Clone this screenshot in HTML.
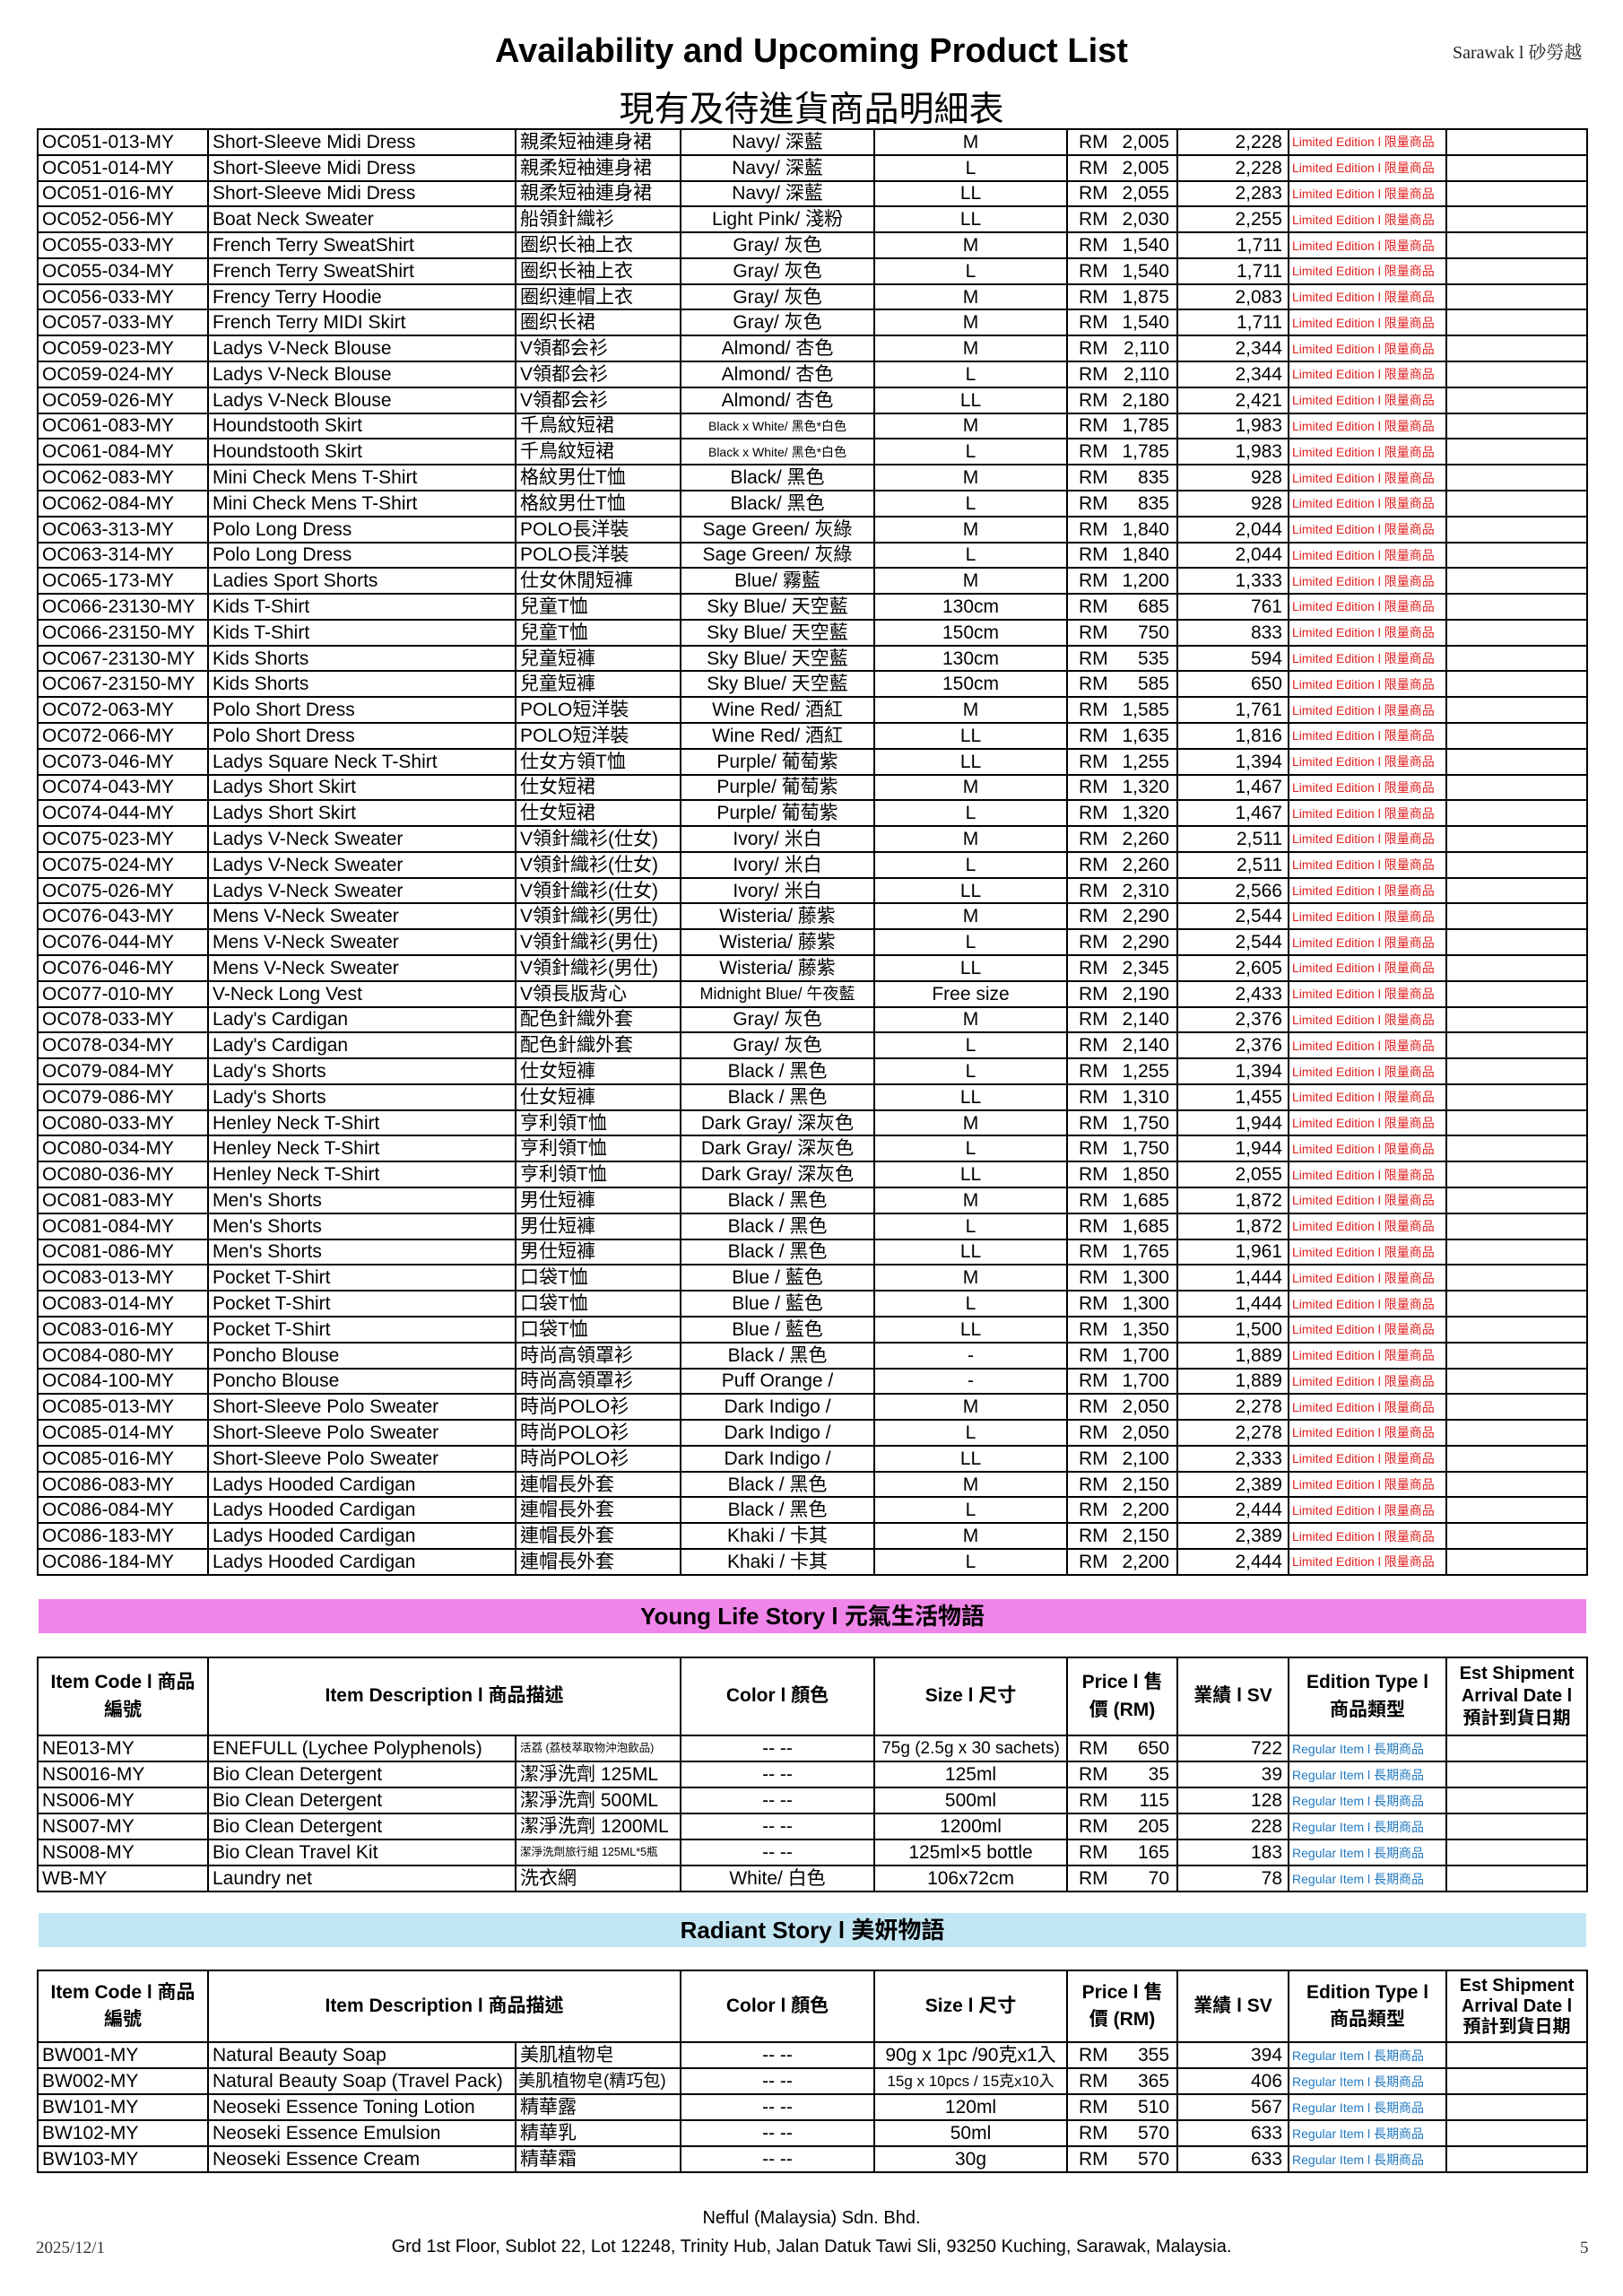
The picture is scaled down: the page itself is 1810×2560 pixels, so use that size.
<!DOCTYPE html>
<html><head><meta charset="utf-8">
<style>
*{margin:0;padding:0;box-sizing:border-box}
body{width:1810px;height:2560px;background:#fff;position:relative;font-family:"Liberation Sans","Noto Sans CJK TC",sans-serif;color:#000;overflow:hidden}
.abs{position:absolute}
table{position:absolute;left:41px;width:1728px;border-collapse:collapse;table-layout:fixed}
td,th{border:2px solid #000;white-space:nowrap;overflow:hidden;font-size:21px;line-height:1;padding:0 4px;vertical-align:middle;font-weight:normal}
tr{height:10px}
.t2 tr{height:29px}
.k,.s{text-align:center}
.p{text-align:right;padding-right:8px;padding-left:12px}
.p b{float:left;font-weight:normal}
.v{text-align:right;padding-right:6px}
.e{font-size:14px;color:#e0201f;padding-left:3px}
.r{font-size:14px;color:#1f78c0;padding-left:3px}
.sm{font-size:14px}
.xs{font-size:12.5px}
th{font-weight:bold;font-size:21px;line-height:1.45;text-align:center;white-space:normal}
.bar{position:absolute;left:43px;width:1726px;height:38px;text-align:center;font-weight:bold;font-size:26px;line-height:38px}
</style></head><body>
<div class="abs" style="left:0;width:1810px;top:36px;text-align:center;font-size:38px;font-weight:bold">Availability and Upcoming Product List</div>
<div class="abs" style="left:0;width:1810px;top:96px;text-align:center;font-size:39px;font-family:'Noto Sans CJK TC',sans-serif;line-height:46px">現有及待進貨商品明細表</div>
<div class="abs" style="left:1620px;top:42px;font-size:20px;font-family:'Liberation Serif','Noto Serif CJK SC',serif;color:#222">Sarawak l 砂勞越</div>

<table style="top:143px;height:1614px">
<colgroup><col style="width:190px"><col style="width:343px"><col style="width:184px"><col style="width:216px"><col style="width:215px"><col style="width:123px"><col style="width:124px"><col style="width:176px"><col style="width:157px"></colgroup>
<tr><td>OC051-013-MY</td><td>Short-Sleeve Midi Dress</td><td>親柔短袖連身裙</td><td class=k>Navy/ 深藍</td><td class=s>M</td><td class=p><b>RM</b>2,005</td><td class=v>2,228</td><td class=e>Limited Edition l 限量商品</td><td></td></tr>
<tr><td>OC051-014-MY</td><td>Short-Sleeve Midi Dress</td><td>親柔短袖連身裙</td><td class=k>Navy/ 深藍</td><td class=s>L</td><td class=p><b>RM</b>2,005</td><td class=v>2,228</td><td class=e>Limited Edition l 限量商品</td><td></td></tr>
<tr><td>OC051-016-MY</td><td>Short-Sleeve Midi Dress</td><td>親柔短袖連身裙</td><td class=k>Navy/ 深藍</td><td class=s>LL</td><td class=p><b>RM</b>2,055</td><td class=v>2,283</td><td class=e>Limited Edition l 限量商品</td><td></td></tr>
<tr><td>OC052-056-MY</td><td>Boat Neck Sweater</td><td>船領針織衫</td><td class=k>Light Pink/ 淺粉</td><td class=s>LL</td><td class=p><b>RM</b>2,030</td><td class=v>2,255</td><td class=e>Limited Edition l 限量商品</td><td></td></tr>
<tr><td>OC055-033-MY</td><td>French Terry SweatShirt</td><td>圈织长袖上衣</td><td class=k>Gray/ 灰色</td><td class=s>M</td><td class=p><b>RM</b>1,540</td><td class=v>1,711</td><td class=e>Limited Edition l 限量商品</td><td></td></tr>
<tr><td>OC055-034-MY</td><td>French Terry SweatShirt</td><td>圈织长袖上衣</td><td class=k>Gray/ 灰色</td><td class=s>L</td><td class=p><b>RM</b>1,540</td><td class=v>1,711</td><td class=e>Limited Edition l 限量商品</td><td></td></tr>
<tr><td>OC056-033-MY</td><td>Frency Terry Hoodie</td><td>圈织連帽上衣</td><td class=k>Gray/ 灰色</td><td class=s>M</td><td class=p><b>RM</b>1,875</td><td class=v>2,083</td><td class=e>Limited Edition l 限量商品</td><td></td></tr>
<tr><td>OC057-033-MY</td><td>French Terry MIDI Skirt</td><td>圈织长裙</td><td class=k>Gray/ 灰色</td><td class=s>M</td><td class=p><b>RM</b>1,540</td><td class=v>1,711</td><td class=e>Limited Edition l 限量商品</td><td></td></tr>
<tr><td>OC059-023-MY</td><td>Ladys V-Neck Blouse</td><td>V領都会衫</td><td class=k>Almond/ 杏色</td><td class=s>M</td><td class=p><b>RM</b>2,110</td><td class=v>2,344</td><td class=e>Limited Edition l 限量商品</td><td></td></tr>
<tr><td>OC059-024-MY</td><td>Ladys V-Neck Blouse</td><td>V領都会衫</td><td class=k>Almond/ 杏色</td><td class=s>L</td><td class=p><b>RM</b>2,110</td><td class=v>2,344</td><td class=e>Limited Edition l 限量商品</td><td></td></tr>
<tr><td>OC059-026-MY</td><td>Ladys V-Neck Blouse</td><td>V領都会衫</td><td class=k>Almond/ 杏色</td><td class=s>LL</td><td class=p><b>RM</b>2,180</td><td class=v>2,421</td><td class=e>Limited Edition l 限量商品</td><td></td></tr>
<tr><td>OC061-083-MY</td><td>Houndstooth Skirt</td><td>千鳥紋短裙</td><td class="k sm">Black x White/ 黑色*白色</td><td class=s>M</td><td class=p><b>RM</b>1,785</td><td class=v>1,983</td><td class=e>Limited Edition l 限量商品</td><td></td></tr>
<tr><td>OC061-084-MY</td><td>Houndstooth Skirt</td><td>千鳥紋短裙</td><td class="k sm">Black x White/ 黑色*白色</td><td class=s>L</td><td class=p><b>RM</b>1,785</td><td class=v>1,983</td><td class=e>Limited Edition l 限量商品</td><td></td></tr>
<tr><td>OC062-083-MY</td><td>Mini Check Mens T-Shirt</td><td>格紋男仕T恤</td><td class=k>Black/ 黑色</td><td class=s>M</td><td class=p><b>RM</b>835</td><td class=v>928</td><td class=e>Limited Edition l 限量商品</td><td></td></tr>
<tr><td>OC062-084-MY</td><td>Mini Check Mens T-Shirt</td><td>格紋男仕T恤</td><td class=k>Black/ 黑色</td><td class=s>L</td><td class=p><b>RM</b>835</td><td class=v>928</td><td class=e>Limited Edition l 限量商品</td><td></td></tr>
<tr><td>OC063-313-MY</td><td>Polo Long Dress</td><td>POLO長洋裝</td><td class=k>Sage Green/ 灰綠</td><td class=s>M</td><td class=p><b>RM</b>1,840</td><td class=v>2,044</td><td class=e>Limited Edition l 限量商品</td><td></td></tr>
<tr><td>OC063-314-MY</td><td>Polo Long Dress</td><td>POLO長洋裝</td><td class=k>Sage Green/ 灰綠</td><td class=s>L</td><td class=p><b>RM</b>1,840</td><td class=v>2,044</td><td class=e>Limited Edition l 限量商品</td><td></td></tr>
<tr><td>OC065-173-MY</td><td>Ladies Sport Shorts</td><td>仕女休閒短褲</td><td class=k>Blue/ 霧藍</td><td class=s>M</td><td class=p><b>RM</b>1,200</td><td class=v>1,333</td><td class=e>Limited Edition l 限量商品</td><td></td></tr>
<tr><td>OC066-23130-MY</td><td>Kids T-Shirt</td><td>兒童T恤</td><td class=k>Sky Blue/ 天空藍</td><td class=s>130cm</td><td class=p><b>RM</b>685</td><td class=v>761</td><td class=e>Limited Edition l 限量商品</td><td></td></tr>
<tr><td>OC066-23150-MY</td><td>Kids T-Shirt</td><td>兒童T恤</td><td class=k>Sky Blue/ 天空藍</td><td class=s>150cm</td><td class=p><b>RM</b>750</td><td class=v>833</td><td class=e>Limited Edition l 限量商品</td><td></td></tr>
<tr><td>OC067-23130-MY</td><td>Kids Shorts</td><td>兒童短褲</td><td class=k>Sky Blue/ 天空藍</td><td class=s>130cm</td><td class=p><b>RM</b>535</td><td class=v>594</td><td class=e>Limited Edition l 限量商品</td><td></td></tr>
<tr><td>OC067-23150-MY</td><td>Kids Shorts</td><td>兒童短褲</td><td class=k>Sky Blue/ 天空藍</td><td class=s>150cm</td><td class=p><b>RM</b>585</td><td class=v>650</td><td class=e>Limited Edition l 限量商品</td><td></td></tr>
<tr><td>OC072-063-MY</td><td>Polo Short Dress</td><td>POLO短洋裝</td><td class=k>Wine Red/ 酒紅</td><td class=s>M</td><td class=p><b>RM</b>1,585</td><td class=v>1,761</td><td class=e>Limited Edition l 限量商品</td><td></td></tr>
<tr><td>OC072-066-MY</td><td>Polo Short Dress</td><td>POLO短洋裝</td><td class=k>Wine Red/ 酒紅</td><td class=s>LL</td><td class=p><b>RM</b>1,635</td><td class=v>1,816</td><td class=e>Limited Edition l 限量商品</td><td></td></tr>
<tr><td>OC073-046-MY</td><td>Ladys Square Neck T-Shirt</td><td>仕女方領T恤</td><td class=k>Purple/ 葡萄紫</td><td class=s>LL</td><td class=p><b>RM</b>1,255</td><td class=v>1,394</td><td class=e>Limited Edition l 限量商品</td><td></td></tr>
<tr><td>OC074-043-MY</td><td>Ladys Short Skirt</td><td>仕女短裙</td><td class=k>Purple/ 葡萄紫</td><td class=s>M</td><td class=p><b>RM</b>1,320</td><td class=v>1,467</td><td class=e>Limited Edition l 限量商品</td><td></td></tr>
<tr><td>OC074-044-MY</td><td>Ladys Short Skirt</td><td>仕女短裙</td><td class=k>Purple/ 葡萄紫</td><td class=s>L</td><td class=p><b>RM</b>1,320</td><td class=v>1,467</td><td class=e>Limited Edition l 限量商品</td><td></td></tr>
<tr><td>OC075-023-MY</td><td>Ladys V-Neck Sweater</td><td>V領針織衫(仕女)</td><td class=k>Ivory/ 米白</td><td class=s>M</td><td class=p><b>RM</b>2,260</td><td class=v>2,511</td><td class=e>Limited Edition l 限量商品</td><td></td></tr>
<tr><td>OC075-024-MY</td><td>Ladys V-Neck Sweater</td><td>V領針織衫(仕女)</td><td class=k>Ivory/ 米白</td><td class=s>L</td><td class=p><b>RM</b>2,260</td><td class=v>2,511</td><td class=e>Limited Edition l 限量商品</td><td></td></tr>
<tr><td>OC075-026-MY</td><td>Ladys V-Neck Sweater</td><td>V領針織衫(仕女)</td><td class=k>Ivory/ 米白</td><td class=s>LL</td><td class=p><b>RM</b>2,310</td><td class=v>2,566</td><td class=e>Limited Edition l 限量商品</td><td></td></tr>
<tr><td>OC076-043-MY</td><td>Mens V-Neck Sweater</td><td>V領針織衫(男仕)</td><td class=k>Wisteria/ 藤紫</td><td class=s>M</td><td class=p><b>RM</b>2,290</td><td class=v>2,544</td><td class=e>Limited Edition l 限量商品</td><td></td></tr>
<tr><td>OC076-044-MY</td><td>Mens V-Neck Sweater</td><td>V領針織衫(男仕)</td><td class=k>Wisteria/ 藤紫</td><td class=s>L</td><td class=p><b>RM</b>2,290</td><td class=v>2,544</td><td class=e>Limited Edition l 限量商品</td><td></td></tr>
<tr><td>OC076-046-MY</td><td>Mens V-Neck Sweater</td><td>V領針織衫(男仕)</td><td class=k>Wisteria/ 藤紫</td><td class=s>LL</td><td class=p><b>RM</b>2,345</td><td class=v>2,605</td><td class=e>Limited Edition l 限量商品</td><td></td></tr>
<tr><td>OC077-010-MY</td><td>V-Neck Long Vest</td><td>V領長版背心</td><td class=k style="font-size:18px">Midnight Blue/ 午夜藍</td><td class=s>Free size</td><td class=p><b>RM</b>2,190</td><td class=v>2,433</td><td class=e>Limited Edition l 限量商品</td><td></td></tr>
<tr><td>OC078-033-MY</td><td>Lady's Cardigan</td><td>配色針織外套</td><td class=k>Gray/ 灰色</td><td class=s>M</td><td class=p><b>RM</b>2,140</td><td class=v>2,376</td><td class=e>Limited Edition l 限量商品</td><td></td></tr>
<tr><td>OC078-034-MY</td><td>Lady's Cardigan</td><td>配色針織外套</td><td class=k>Gray/ 灰色</td><td class=s>L</td><td class=p><b>RM</b>2,140</td><td class=v>2,376</td><td class=e>Limited Edition l 限量商品</td><td></td></tr>
<tr><td>OC079-084-MY</td><td>Lady's Shorts</td><td>仕女短褲</td><td class=k>Black / 黑色</td><td class=s>L</td><td class=p><b>RM</b>1,255</td><td class=v>1,394</td><td class=e>Limited Edition l 限量商品</td><td></td></tr>
<tr><td>OC079-086-MY</td><td>Lady's Shorts</td><td>仕女短褲</td><td class=k>Black / 黑色</td><td class=s>LL</td><td class=p><b>RM</b>1,310</td><td class=v>1,455</td><td class=e>Limited Edition l 限量商品</td><td></td></tr>
<tr><td>OC080-033-MY</td><td>Henley Neck T-Shirt</td><td>亨利領T恤</td><td class=k>Dark Gray/ 深灰色</td><td class=s>M</td><td class=p><b>RM</b>1,750</td><td class=v>1,944</td><td class=e>Limited Edition l 限量商品</td><td></td></tr>
<tr><td>OC080-034-MY</td><td>Henley Neck T-Shirt</td><td>亨利領T恤</td><td class=k>Dark Gray/ 深灰色</td><td class=s>L</td><td class=p><b>RM</b>1,750</td><td class=v>1,944</td><td class=e>Limited Edition l 限量商品</td><td></td></tr>
<tr><td>OC080-036-MY</td><td>Henley Neck T-Shirt</td><td>亨利領T恤</td><td class=k>Dark Gray/ 深灰色</td><td class=s>LL</td><td class=p><b>RM</b>1,850</td><td class=v>2,055</td><td class=e>Limited Edition l 限量商品</td><td></td></tr>
<tr><td>OC081-083-MY</td><td>Men's Shorts</td><td>男仕短褲</td><td class=k>Black / 黑色</td><td class=s>M</td><td class=p><b>RM</b>1,685</td><td class=v>1,872</td><td class=e>Limited Edition l 限量商品</td><td></td></tr>
<tr><td>OC081-084-MY</td><td>Men's Shorts</td><td>男仕短褲</td><td class=k>Black / 黑色</td><td class=s>L</td><td class=p><b>RM</b>1,685</td><td class=v>1,872</td><td class=e>Limited Edition l 限量商品</td><td></td></tr>
<tr><td>OC081-086-MY</td><td>Men's Shorts</td><td>男仕短褲</td><td class=k>Black / 黑色</td><td class=s>LL</td><td class=p><b>RM</b>1,765</td><td class=v>1,961</td><td class=e>Limited Edition l 限量商品</td><td></td></tr>
<tr><td>OC083-013-MY</td><td>Pocket T-Shirt</td><td>口袋T恤</td><td class=k>Blue / 藍色</td><td class=s>M</td><td class=p><b>RM</b>1,300</td><td class=v>1,444</td><td class=e>Limited Edition l 限量商品</td><td></td></tr>
<tr><td>OC083-014-MY</td><td>Pocket T-Shirt</td><td>口袋T恤</td><td class=k>Blue / 藍色</td><td class=s>L</td><td class=p><b>RM</b>1,300</td><td class=v>1,444</td><td class=e>Limited Edition l 限量商品</td><td></td></tr>
<tr><td>OC083-016-MY</td><td>Pocket T-Shirt</td><td>口袋T恤</td><td class=k>Blue / 藍色</td><td class=s>LL</td><td class=p><b>RM</b>1,350</td><td class=v>1,500</td><td class=e>Limited Edition l 限量商品</td><td></td></tr>
<tr><td>OC084-080-MY</td><td>Poncho Blouse</td><td>時尚高領罩衫</td><td class=k>Black / 黑色</td><td class=s>-</td><td class=p><b>RM</b>1,700</td><td class=v>1,889</td><td class=e>Limited Edition l 限量商品</td><td></td></tr>
<tr><td>OC084-100-MY</td><td>Poncho Blouse</td><td>時尚高領罩衫</td><td class=k>Puff Orange /</td><td class=s>-</td><td class=p><b>RM</b>1,700</td><td class=v>1,889</td><td class=e>Limited Edition l 限量商品</td><td></td></tr>
<tr><td>OC085-013-MY</td><td>Short-Sleeve Polo Sweater</td><td>時尚POLO衫</td><td class=k>Dark Indigo /</td><td class=s>M</td><td class=p><b>RM</b>2,050</td><td class=v>2,278</td><td class=e>Limited Edition l 限量商品</td><td></td></tr>
<tr><td>OC085-014-MY</td><td>Short-Sleeve Polo Sweater</td><td>時尚POLO衫</td><td class=k>Dark Indigo /</td><td class=s>L</td><td class=p><b>RM</b>2,050</td><td class=v>2,278</td><td class=e>Limited Edition l 限量商品</td><td></td></tr>
<tr><td>OC085-016-MY</td><td>Short-Sleeve Polo Sweater</td><td>時尚POLO衫</td><td class=k>Dark Indigo /</td><td class=s>LL</td><td class=p><b>RM</b>2,100</td><td class=v>2,333</td><td class=e>Limited Edition l 限量商品</td><td></td></tr>
<tr><td>OC086-083-MY</td><td>Ladys Hooded Cardigan</td><td>連帽長外套</td><td class=k>Black / 黑色</td><td class=s>M</td><td class=p><b>RM</b>2,150</td><td class=v>2,389</td><td class=e>Limited Edition l 限量商品</td><td></td></tr>
<tr><td>OC086-084-MY</td><td>Ladys Hooded Cardigan</td><td>連帽長外套</td><td class=k>Black / 黑色</td><td class=s>L</td><td class=p><b>RM</b>2,200</td><td class=v>2,444</td><td class=e>Limited Edition l 限量商品</td><td></td></tr>
<tr><td>OC086-183-MY</td><td>Ladys Hooded Cardigan</td><td>連帽長外套</td><td class=k>Khaki / 卡其</td><td class=s>M</td><td class=p><b>RM</b>2,150</td><td class=v>2,389</td><td class=e>Limited Edition l 限量商品</td><td></td></tr>
<tr><td>OC086-184-MY</td><td>Ladys Hooded Cardigan</td><td>連帽長外套</td><td class=k>Khaki / 卡其</td><td class=s>L</td><td class=p><b>RM</b>2,200</td><td class=v>2,444</td><td class=e>Limited Edition l 限量商品</td><td></td></tr>
</table>

<div class="bar" style="top:1783px;background:#ef84e9">Young Life Story l 元氣生活物語</div>

<table class="t2" style="top:1847px">
<colgroup><col style="width:190px"><col style="width:343px"><col style="width:184px"><col style="width:216px"><col style="width:215px"><col style="width:123px"><col style="width:124px"><col style="width:176px"><col style="width:157px"></colgroup>
<tr style="height:87px"><th>Item Code l 商品<br>編號</th><th colspan=2>Item Description l 商品描述</th><th>Color l 顏色</th><th>Size l 尺寸</th><th>Price l 售<br>價 (RM)</th><th>業績 l SV</th><th>Edition Type l<br>商品類型</th><th style="line-height:1.25;font-size:20px">Est Shipment<br>Arrival Date l<br>預計到貨日期</th></tr>
<tr><td>NE013-MY</td><td>ENEFULL (Lychee Polyphenols)</td><td class=xs>活荔 (荔枝萃取物沖泡飲品)</td><td class=k>-- --</td><td class=s style="font-size:19px;padding:0 1px">75g (2.5g x 30 sachets)</td><td class=p><b>RM</b>650</td><td class=v>722</td><td class=r>Regular Item l 長期商品</td><td></td></tr>
<tr><td>NS0016-MY</td><td>Bio Clean Detergent</td><td>潔淨洗劑 125ML</td><td class=k>-- --</td><td class=s>125ml</td><td class=p><b>RM</b>35</td><td class=v>39</td><td class=r>Regular Item l 長期商品</td><td></td></tr>
<tr><td>NS006-MY</td><td>Bio Clean Detergent</td><td>潔淨洗劑 500ML</td><td class=k>-- --</td><td class=s>500ml</td><td class=p><b>RM</b>115</td><td class=v>128</td><td class=r>Regular Item l 長期商品</td><td></td></tr>
<tr><td>NS007-MY</td><td>Bio Clean Detergent</td><td>潔淨洗劑 1200ML</td><td class=k>-- --</td><td class=s>1200ml</td><td class=p><b>RM</b>205</td><td class=v>228</td><td class=r>Regular Item l 長期商品</td><td></td></tr>
<tr><td>NS008-MY</td><td>Bio Clean Travel Kit</td><td class=xs>潔淨洗劑旅行組 125ML*5瓶</td><td class=k>-- --</td><td class=s>125ml×5 bottle</td><td class=p><b>RM</b>165</td><td class=v>183</td><td class=r>Regular Item l 長期商品</td><td></td></tr>
<tr><td>WB-MY</td><td>Laundry net</td><td>洗衣網</td><td class=k>White/ 白色</td><td class=s>106x72cm</td><td class=p><b>RM</b>70</td><td class=v>78</td><td class=r>Regular Item l 長期商品</td><td></td></tr>
</table>

<div class="bar" style="top:2133px;background:#c2e5f3">Radiant Story l 美妍物語</div>

<table class="t2" style="top:2196px">
<colgroup><col style="width:190px"><col style="width:343px"><col style="width:184px"><col style="width:216px"><col style="width:215px"><col style="width:123px"><col style="width:124px"><col style="width:176px"><col style="width:157px"></colgroup>
<tr style="height:80px"><th>Item Code l 商品<br>編號</th><th colspan=2>Item Description l 商品描述</th><th>Color l 顏色</th><th>Size l 尺寸</th><th>Price l 售<br>價 (RM)</th><th>業績 l SV</th><th>Edition Type l<br>商品類型</th><th style="line-height:1.15;font-size:20px">Est Shipment<br>Arrival Date l<br>預計到貨日期</th></tr>
<tr><td>BW001-MY</td><td>Natural Beauty Soap</td><td>美肌植物皂</td><td class=k>-- --</td><td class=s>90g x 1pc /90克x1入</td><td class=p><b>RM</b>355</td><td class=v>394</td><td class=r>Regular Item l 長期商品</td><td></td></tr>
<tr><td>BW002-MY</td><td>Natural Beauty Soap (Travel Pack)</td><td style="font-size:19px;padding:0 2px">美肌植物皂(精巧包)</td><td class=k>-- --</td><td class="s" style="font-size:17px">15g x 10pcs / 15克x10入</td><td class=p><b>RM</b>365</td><td class=v>406</td><td class=r>Regular Item l 長期商品</td><td></td></tr>
<tr><td>BW101-MY</td><td>Neoseki Essence Toning Lotion</td><td>精華露</td><td class=k>-- --</td><td class=s>120ml</td><td class=p><b>RM</b>510</td><td class=v>567</td><td class=r>Regular Item l 長期商品</td><td></td></tr>
<tr><td>BW102-MY</td><td>Neoseki Essence Emulsion</td><td>精華乳</td><td class=k>-- --</td><td class=s>50ml</td><td class=p><b>RM</b>570</td><td class=v>633</td><td class=r>Regular Item l 長期商品</td><td></td></tr>
<tr><td>BW103-MY</td><td>Neoseki Essence Cream</td><td>精華霜</td><td class=k>-- --</td><td class=s>30g</td><td class=p><b>RM</b>570</td><td class=v>633</td><td class=r>Regular Item l 長期商品</td><td></td></tr>
</table>

<div class="abs" style="left:0;width:1810px;top:2462px;text-align:center;font-size:20px">Nefful (Malaysia) Sdn. Bhd.</div>
<div class="abs" style="left:0;width:1810px;top:2494px;text-align:center;font-size:20px">Grd 1st Floor, Sublot 22, Lot 12248, Trinity Hub, Jalan Datuk Tawi Sli, 93250 Kuching, Sarawak, Malaysia.</div>
<div class="abs" style="left:40px;top:2496px;font-size:19px;font-family:'Liberation Serif',serif;color:#333">2025/12/1</div>
<div class="abs" style="left:1762px;top:2496px;font-size:19px;font-family:'Liberation Serif',serif;color:#333">5</div>
</body></html>
